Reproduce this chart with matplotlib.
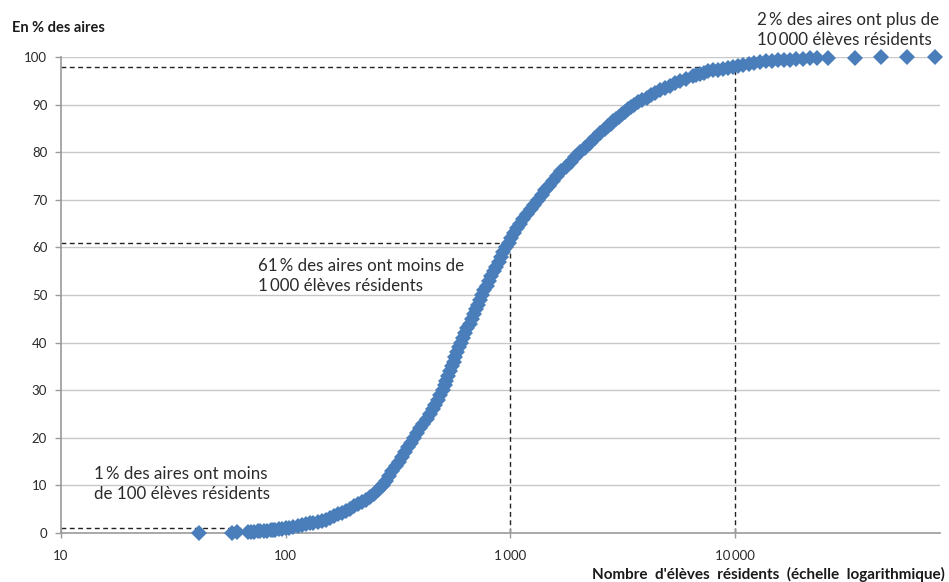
import numpy as np
import matplotlib.pyplot as plt
from matplotlib.ticker import FixedLocator, NullLocator

# Cumulative distribution of school catchment areas by number of resident pupils
eleves = [41, 58, 61, 68, 70, 72, 75, 77, 80, 83, 86, 88, 90, 93, 96,
          100, 104, 108, 113, 118, 123, 128, 133, 139, 145, 151, 157, 164, 171, 178,
          185, 193, 201, 210, 218, 227, 237, 247, 257, 268,
          271, 280, 289, 299, 309, 319, 329, 340, 350, 361, 372, 385, 398, 411, 425,
          439, 451, 463, 475, 488, 501, 511, 520, 530, 540, 550, 560, 570, 581, 592,
          603, 617, 630, 645, 660, 675, 689, 703, 717, 732, 747, 766, 785, 805, 825,
          845, 866, 888, 910, 933, 956, 986, 1012, 1042, 1072, 1103, 1144, 1188, 1233,
          1279, 1327, 1379, 1434, 1491, 1550, 1612, 1690, 1772, 1857, 1947, 2041, 2148,
          2262, 2380, 2505, 2636, 2716, 2798, 2882, 2970, 3059, 3151, 3246, 3344, 3445,
          3548, 3709, 3879, 4055, 4238, 4432, 4633, 4875, 5132, 5402, 5685, 6076, 6497,
          6751, 7015, 7290, 7575, 7973, 8393, 8835, 9299, 9788, 10345, 10934, 11556,
          12213, 12908, 13724, 14592, 15514, 16496, 17539, 18648, 20048, 21544, 23145,
          25900, 34200, 44600, 58700, 78300]
pct_aires = [0.05, 0.1, 0.15, 0.2, 0.25, 0.3, 0.35, 0.4, 0.45, 0.5, 0.6, 0.65, 0.7, 0.8, 0.9,
             1.0, 1.1, 1.25, 1.4, 1.6, 1.8, 2.0, 2.15, 2.3, 2.5, 2.8, 3.1, 3.5, 3.9, 4.2,
             4.6, 5.1, 5.6, 6.1, 6.6, 7.0, 7.6, 8.3, 9.0, 9.8,
             10, 11, 12, 13, 14, 15, 16, 17, 18, 19, 20, 21, 22, 23, 24,
             25, 26, 27, 28, 29, 30, 31, 32, 33, 34, 35, 36, 37, 38, 39,
             40, 41, 42, 43, 44, 45, 46, 47, 48, 49, 50, 51, 52, 53, 54,
             55, 56, 57, 58, 59, 60, 61, 62, 63, 64, 65, 66, 67, 68,
             69, 70, 71, 72, 73, 74, 75, 76, 77, 78, 79, 80, 81,
             82, 83, 84, 85, 85.5, 86, 86.5, 87, 87.5, 88, 88.5, 89, 89.5,
             90, 90.5, 91, 91.5, 92, 92.5, 93, 93.5, 94, 94.5, 95, 95.5, 96,
             96.25, 96.5, 96.75, 97, 97.2, 97.4, 97.6, 97.8, 98.0, 98.2, 98.4, 98.6,
             98.8, 99.0, 99.1, 99.2, 99.3, 99.4, 99.5, 99.6, 99.7, 99.75, 99.8,
             99.85, 99.9, 99.95, 99.97, 100]

# reference thresholds: (number of pupils, cumulative %)
seuils = [(100, 1), (1000, 61), (10000, 98)]

x_ticks = [10, 100, 1000, 10000]
x_tick_labels = ['10', '100', '1\u2009000', '10\u2009000']
y_ticks = np.arange(0, 101, 10)

plt.rcParams['font.family'] = ['Lato', 'DejaVu Sans']

fig = plt.figure(figsize=(9.49, 5.82), dpi=100)
ax = fig.add_axes([0.0643, 0.0842, 0.9262, 0.8176])

ax.set_xscale('log')
ax.set_xlim(10, 82000)
ax.set_ylim(0, 100)

# horizontal grid
for y in y_ticks[1:]:
    ax.axhline(y, color='#c8c8c8', linewidth=1, zorder=0)

# dashed threshold lines
for sx, sy in seuils:
    ax.plot([10, sx], [sy, sy], color='#222222', linestyle=(0, (3.5, 2.5)),
            linewidth=1, zorder=1)
    ax.plot([sx, sx], [0, sy], color='#222222', linestyle=(0, (3.5, 2.5)),
            linewidth=1, zorder=1)

ax.plot(eleves, pct_aires, linestyle='none', marker='D', markersize=8.3,
        color='#4a7ebb', markeredgewidth=0, zorder=3, clip_on=False)

ax.xaxis.set_major_locator(FixedLocator(x_ticks))
ax.xaxis.set_minor_locator(NullLocator())
ax.set_xticklabels(x_tick_labels)
ax.set_yticks(y_ticks)
ax.tick_params(axis='both', labelsize=9.5, colors='#9a9a9a', labelcolor='#2a2a2a',
               length=4, width=1)
ax.tick_params(axis='x', direction='inout', length=7, pad=9)
ax.tick_params(axis='y', pad=6)

for side in ['top', 'right']:
    ax.spines[side].set_visible(False)
for side in ['left', 'bottom']:
    ax.spines[side].set_color('#9a9a9a')
    ax.spines[side].set_linewidth(1.2)

fig.text(12 / 949, 1 - 28 / 582, 'En % des aires', fontsize=10.5, fontweight='bold',
         color='#1a1a1a', va='center', ha='left')
fig.text(945 / 949, 1 - 574 / 582, "Nombre  d'élèves  résidents  (échelle  logarithmique)",
         fontsize=11, fontweight='bold', color='#1a1a1a', va='center', ha='right')

txt_kw = dict(fontsize=12.2, color='#2a2a2a', va='center', ha='left', linespacing=1.3)
fig.text(757 / 949, 1 - 30 / 582, '2\u2009% des aires ont plus de\n10\u2009000 élèves résidents', **txt_kw)
fig.text(258 / 949, 1 - 276 / 582, '61\u2009% des aires ont moins de\n1\u2009000 élèves résidents', **txt_kw)
fig.text(94 / 949, 1 - 484 / 582, '1\u2009% des aires ont moins\nde 100 élèves résidents', **txt_kw)

fig.savefig('out.png', dpi=100)
